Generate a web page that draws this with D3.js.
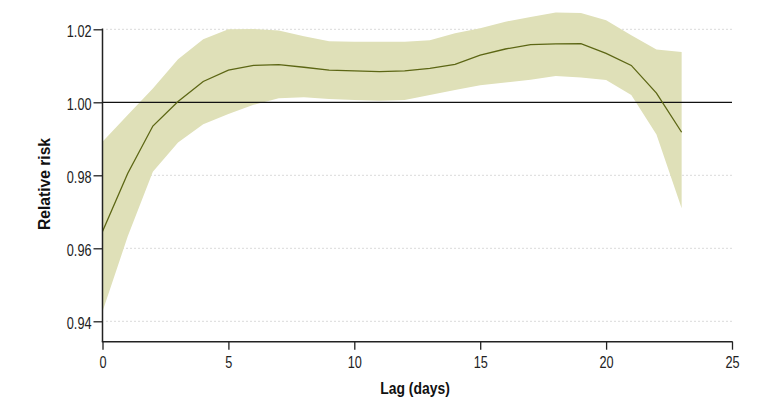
<!DOCTYPE html>
<html><head><meta charset="utf-8">
<script src="https://cdn.jsdelivr.net/npm/d3@7"></script>
<style>
html,body{margin:0;padding:0;background:#fff;}
svg text{font-family:"Liberation Sans","Arial",sans-serif;}
</style></head>
<body><svg id="c" width="771" height="409"></svg>
<script>
const lags = [0,1,2,3,4,5,6,7,8,9,10,11,12,13,14,15,16,17,18,19,20,21,22,23];
const rr = [0.9646,0.9805,0.9935,1.0002,1.0057,1.0088,1.0101,1.0103,1.0096,1.0088,1.0086,1.0084,1.0086,1.0093,1.0104,1.0129,1.0146,1.0158,1.0160,1.0161,1.0134,1.0101,1.0025,0.9918];
const lower = [0.9427,0.9632,0.9810,0.9890,0.9940,0.9968,0.9993,1.0011,1.0014,1.0009,1.0006,1.0004,1.0006,1.0020,1.0034,1.0047,1.0054,1.0062,1.0072,1.0068,1.0061,1.0020,0.9912,0.9710];
const upper = [0.9892,0.9965,1.0038,1.0118,1.0173,1.0200,1.0201,1.0197,1.0181,1.0167,1.0166,1.0166,1.0166,1.0170,1.0189,1.0203,1.0221,1.0234,1.0246,1.0245,1.0225,1.0184,1.0145,1.0138];
const xTicks = [0,5,10,15,20,25];
const yTicks = [0.94,0.96,0.98,1.00,1.02];

const svg = d3.select("#c");
const x = d3.scaleLinear().domain([0,25]).range([102.5,732]);
const y = d3.scaleLinear().domain([0.94,1.02]).range([321.3,29.3]);
const yBottom = 341.7;
const data = lags.map((l,i)=>({l, rr:rr[i], lo:lower[i], hi:upper[i]}));
const sx = 0.77;

// dotted gridlines
svg.append("g").selectAll("line").data(yTicks.filter(t=>t!==1.00)).join("line")
  .attr("x1",x(0)+4).attr("x2",x(25)).attr("y1",d=>y(d)).attr("y2",d=>y(d))
  .attr("stroke","#b5b5b5").attr("stroke-width",1).attr("stroke-dasharray","1,3");

// band
svg.append("path").datum(data)
  .attr("d", d3.area().x(d=>x(d.l)).y0(d=>y(d.lo)).y1(d=>y(d.hi)))
  .attr("fill","#dfe0b8");

// reference line at 1.00
svg.append("line").attr("x1",x(0)).attr("x2",x(25)).attr("y1",y(1)).attr("y2",y(1))
  .attr("stroke","#111").attr("stroke-width",1.2);

// main line
svg.append("path").datum(data)
  .attr("d", d3.line().x(d=>x(d.l)).y(d=>y(d.rr)))
  .attr("fill","none").attr("stroke","#5c6614").attr("stroke-width",1.3);

// y axis
const yAxis = svg.append("g").attr("transform",`translate(${x(0)},0)`)
  .call(d3.axisLeft(y).tickValues(yTicks).tickFormat(d3.format(".2f")).tickSize(9).tickPadding(2));
yAxis.select(".domain").remove();
yAxis.append("line").attr("x1",0).attr("x2",0).attr("y1",y(1.02)-0.7).attr("y2",yBottom)
  .attr("stroke","#222").attr("stroke-width",1.5);
yAxis.selectAll(".tick line").attr("stroke","#222").attr("stroke-width",1.3);
yAxis.selectAll(".tick text").attr("fill","#222").style("font-size","16.5px")
  .attr("x",-11/sx).attr("dy","0.42em").attr("transform",`scale(${sx},1)`);

// x axis
const xAxis = svg.append("g").attr("transform",`translate(0,${yBottom})`)
  .call(d3.axisBottom(x).tickValues(xTicks).tickFormat(d3.format("d")).tickSize(8).tickPadding(7));
xAxis.select(".domain").remove();
xAxis.append("line").attr("x1",x(0)-0.7).attr("x2",x(25)+0.7).attr("y1",0).attr("y2",0)
  .attr("stroke","#222").attr("stroke-width",1.5);
xAxis.selectAll(".tick line").attr("stroke","#222").attr("stroke-width",1.3);
xAxis.selectAll(".tick").each(function(d){
  d3.select(this).select("text").attr("fill","#222").style("font-size","16.5px")
    .attr("transform",`scale(${sx},1)`);
});

// axis titles
svg.append("text").attr("transform",`translate(415,393.5) scale(0.82,1)`).attr("text-anchor","middle")
  .style("font-size","17px").style("font-weight","bold").attr("fill","#111").text("Lag (days)");
svg.append("text").attr("transform","translate(49.5,184) rotate(-90) scale(0.92,1)").attr("text-anchor","middle")
  .style("font-size","17px").style("font-weight","bold").attr("fill","#111").text("Relative risk");
</script></body></html>
